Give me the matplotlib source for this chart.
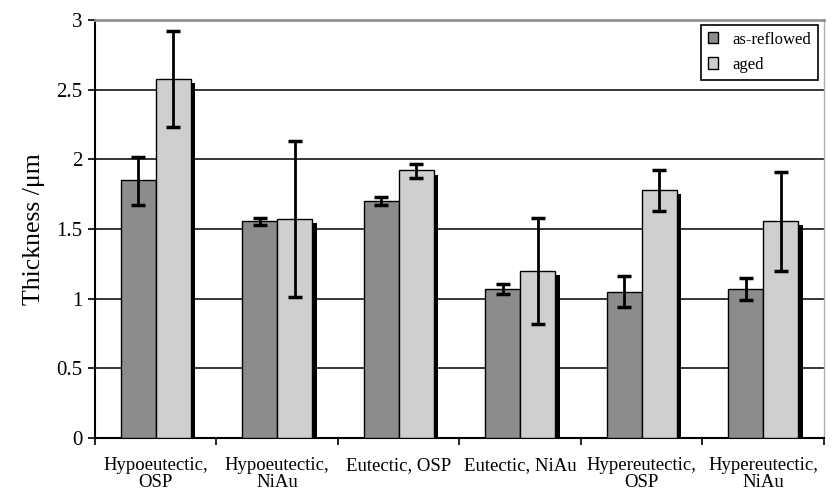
import matplotlib
matplotlib.use("Agg")
import matplotlib.pyplot as plt
import matplotlib.patheffects as pe
import numpy as np

# solder / finish combinations
groups = ["Hypoeutectic,\nOSP", "Hypoeutectic,\nNiAu", "Eutectic, OSP",
          "Eutectic, NiAu", "Hypereutectic,\nOSP", "Hypereutectic,\nNiAu"]

# IMC thickness (um) and error bar ends
reflowed = [1.85, 1.56, 1.70, 1.07, 1.05, 1.07]
reflowed_hi = [2.02, 1.58, 1.73, 1.105, 1.16, 1.15]
reflowed_lo = [1.67, 1.53, 1.67, 1.03, 0.94, 0.99]
aged = [2.58, 1.575, 1.92, 1.20, 1.78, 1.56]
aged_hi = [2.92, 2.13, 1.97, 1.58, 1.925, 1.91]
aged_lo = [2.235, 1.015, 1.865, 0.82, 1.63, 1.20]

plt.rcParams['font.family'] = ['Liberation Serif', 'DejaVu Serif']

fig = plt.figure(figsize=(8.32, 4.94), dpi=100)
ax = fig.add_axes([0.1142, 0.1134, 0.876, 0.8461])

x = np.arange(len(groups))
w = 0.287
shadow = [pe.SimplePatchShadow(offset=(3.5, -3), shadow_rgbFace='black', alpha=1.0), pe.Normal()]

b1 = ax.bar(x - w / 2, reflowed, w, color='#8c8c8c', edgecolor='black', linewidth=1,
            label='as-reflowed', zorder=3)
b2 = ax.bar(x + w / 2, aged, w, color='#cfcfcf', edgecolor='black', linewidth=1,
            label='aged', zorder=3)
for b in list(b1) + list(b2):
    b.set_path_effects(shadow)

err1 = [np.array(reflowed) - np.array(reflowed_lo), np.array(reflowed_hi) - np.array(reflowed)]
err2 = [np.array(aged) - np.array(aged_lo), np.array(aged_hi) - np.array(aged)]
ax.errorbar(x - w / 2, reflowed, yerr=err1, fmt='none', ecolor='black', elinewidth=2,
            capsize=5, capthick=2.5, zorder=4)
ax.errorbar(x + w / 2, aged, yerr=err2, fmt='none', ecolor='black', elinewidth=2,
            capsize=5, capthick=2.5, zorder=4)

ax.set_xlim(-0.5, len(groups) - 0.5)
ax.set_ylim(0, 3)
ax.set_yticks(np.arange(0, 3.01, 0.5))
ax.set_yticklabels(['0', '0.5', '1', '1.5', '2', '2.5', '3'])
ax.yaxis.grid(True, color='black', linewidth=1.1)
ax.set_axisbelow(True)

ax.set_xticks(x)
ax.set_xticklabels(groups, fontsize=13.5, linespacing=0.95)
ax.tick_params(axis='x', which='major', length=0, pad=14)
ax.set_xticks(np.arange(-0.5, len(groups)), minor=True)
ax.tick_params(axis='x', which='minor', length=5, width=1.2, direction='out')
ax.tick_params(axis='y', length=5, width=1.2, labelsize=15, pad=4)

ax.spines['left'].set_linewidth(1.5)
ax.spines['bottom'].set_linewidth(1.5)
ax.spines['top'].set_color('#909090')
ax.spines['top'].set_linewidth(2)
ax.spines['right'].set_color('#b0b0b0')
ax.spines['right'].set_linewidth(1)

ax.set_ylabel('Thickness /μm', fontsize=18.5, labelpad=8)

leg = ax.legend(loc='upper right', bbox_to_anchor=(0.992, 0.988), fontsize=12,
                fancybox=False, edgecolor='black', framealpha=1, handlelength=0.65,
                handleheight=0.65, borderpad=0.4, labelspacing=0.55, handletextpad=0.85,
                borderaxespad=0)
leg.get_frame().set_linewidth(1.2)
for h in leg.legend_handles:
    h.set_path_effects([])

fig.savefig('out.png', dpi=100)
